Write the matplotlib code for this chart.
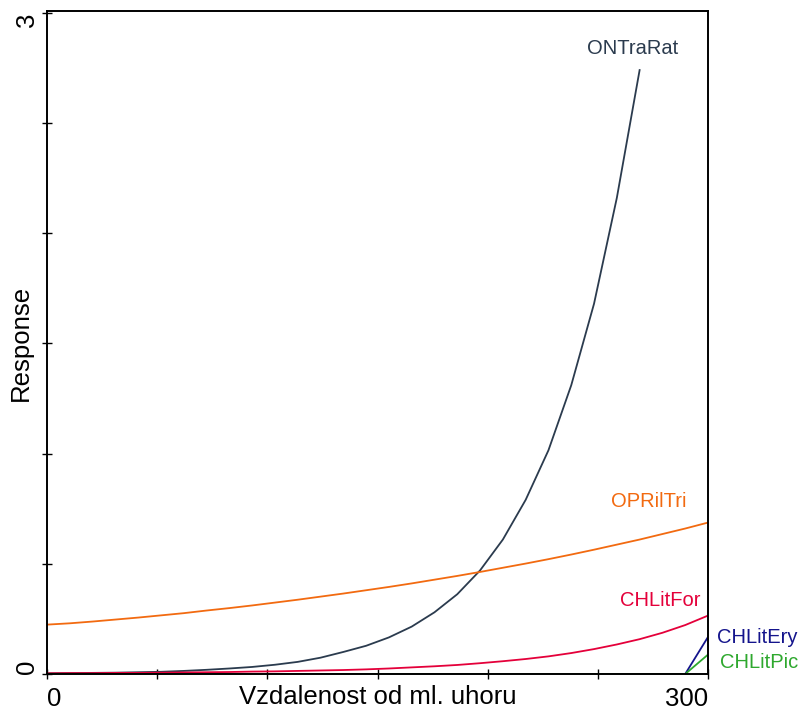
import numpy as np
import matplotlib
matplotlib.use("Agg")
import matplotlib.pyplot as plt

plt.rcParams['font.family'] = ['Liberation Sans', 'DejaVu Sans']

# x grid of the fitted response curves (30 steps over 0..300)
x = np.linspace(0, 300, 30)

species = ["ONTraRat", "OPRilTri", "CHLitFor", "CHLitEry", "CHLitPic"]

ontrarat = [0.003, 0.004, 0.005, 0.006, 0.008, 0.010, 0.014, 0.019, 0.025, 0.032,
            0.042, 0.055, 0.074, 0.100, 0.128, 0.166, 0.215, 0.280, 0.362, 0.470,
            0.610, 0.790, 1.015, 1.310, 1.680, 2.160, 2.740]
oprilrtri = [0.224, 0.230, 0.238, 0.247, 0.256, 0.266, 0.276, 0.288, 0.299, 0.311,
             0.324, 0.337, 0.351, 0.365, 0.380, 0.395, 0.411, 0.428, 0.445, 0.463,
             0.482, 0.501, 0.521, 0.542, 0.564, 0.587, 0.610, 0.635, 0.660, 0.687]
chlitfor = [0.003, 0.004, 0.004, 0.005, 0.005, 0.006, 0.007, 0.008, 0.009, 0.011,
            0.012, 0.014, 0.016, 0.018, 0.021, 0.025, 0.030, 0.035, 0.041, 0.049,
            0.058, 0.068, 0.080, 0.095, 0.113, 0.134, 0.158, 0.187, 0.222, 0.265]
chlitery = [0.0] * 29 + [0.168]
chlitpic = [0.0] * 29 + [0.088]

colors = ["#2b3b4e", "#f26a10", "#e4003a", "#14148c", "#2ea82e"]
label_pos = [(266.0, 2.813), (273.3, 0.758), (278.5, 0.309), (322.5, 0.141), (323.2, 0.027)]

fig = plt.figure(figsize=(8.02, 7.11), dpi=100)
ax = fig.add_axes([47 / 802, 37 / 711, 661 / 802, 663 / 711])

series = [ontrarat, oprilrtri, chlitfor, chlitery, chlitpic]
for name, ys, c, (tx, ty) in zip(species, series, colors, label_pos):
    ax.plot(x[:len(ys)], ys, color=c, lw=1.3)
    ax.text(tx, ty, name, color=c, fontsize=14.5, ha='center', va='baseline', clip_on=False)

ax.set_xlim(0, 300)
ax.set_ylim(0, 3.008)

ax.set_xticks(np.arange(0, 301, 50))
ax.set_xticklabels(["0", "", "", "", "", "", "300"], fontsize=18.5)
ax.set_yticks(np.arange(0, 3.01, 0.5))
ax.set_yticklabels(["0", "", "", "", "", "", "3"], fontsize=18.5, rotation=90)
ax.tick_params(direction='inout', length=7, width=1)
ax.tick_params(axis='x', pad=6)
ax.tick_params(axis='y', pad=2)

xl = ax.get_xticklabels()
xl[0].set_ha('left')
xl[-1].set_ha('right')
yl = ax.get_yticklabels()
yl[0].set_va('bottom')
yl[-1].set_va('top')

for s in ax.spines.values():
    s.set_linewidth(1.4)
    s.set_color('black')

ax.set_xlabel("Vzdalenost od ml. uhoru", fontsize=18.5)
ax.set_ylabel("Response", fontsize=18.5)
ax.xaxis.set_label_coords(0.5, -0.016)
ax.yaxis.set_label_coords(-0.021, 0.5)

fig.savefig("out.png", dpi=100)
